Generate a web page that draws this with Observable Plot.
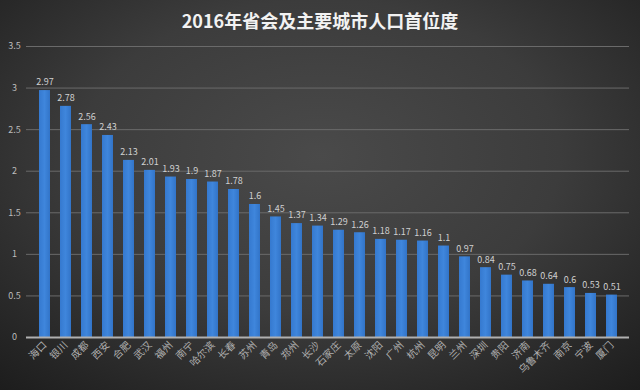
<!DOCTYPE html>
<html>
<head>
<meta charset="utf-8">
<script src="https://cdn.jsdelivr.net/npm/d3@7"></script>
<script src="https://cdn.jsdelivr.net/npm/@observablehq/plot@0.6"></script>
<style>
  html, body { margin: 0; padding: 0; }
  body {
    width: 640px; height: 390px; overflow: hidden;
    background: radial-gradient(ellipse 75% 80% at 50% 40%, #4a4a4a 0%, #3c3c3c 50%, #262626 85%, #1d1d1d 100%);
    font-family: "Noto Sans CJK SC", "Noto Sans", sans-serif;
  }
  #title {
    height: 36px; line-height: 40px; text-align: center;
    color: #f2f2f2; font-size: 18px; font-weight: bold;
  }
  #chart svg { display: block; background: transparent; }
</style>
</head>
<body>
<div id="title">2016年省会及主要城市人口首位度</div>
<div id="chart"></div>
<script>
const cities = ["海口","银川","成都","西安","合肥","武汉","福州","南宁","哈尔滨","长春","苏州","青岛","郑州","长沙","石家庄","太原","沈阳","广州","杭州","昆明","兰州","深圳","贵阳","济南","乌鲁木齐","南京","宁波","厦门"];
const values = [2.97,2.78,2.56,2.43,2.13,2.01,1.93,1.9,1.87,1.78,1.6,1.45,1.37,1.34,1.29,1.26,1.18,1.17,1.16,1.1,0.97,0.84,0.75,0.68,0.64,0.6,0.53,0.51];
const yTicks = [0,0.5,1,1.5,2,2.5,3,3.5];

const data = cities.map((c, i) => ({city: c, value: values[i]}));

const chart = Plot.plot({
  width: 640,
  height: 354,
  marginTop: 10,
  marginBottom: 53,
  marginLeft: 26,
  marginRight: 11,
  style: {background: "transparent", fontFamily: "'Noto Sans CJK SC', sans-serif"},
  x: {domain: cities, paddingInner: 0.5, paddingOuter: 0.25, label: null, axis: null},
  y: {domain: [0, 3.5], label: null, axis: null},
  marks: [
    Plot.ruleY(yTicks.filter(d => d > 0), {stroke: "#6a6a6a", strokeOpacity: 1, strokeWidth: 1}),
    () => {
      const defs = d3.create("svg:defs");
      const g = defs.append("linearGradient").attr("id", "barGrad").attr("x1", 0).attr("x2", 1).attr("y1", 0).attr("y2", 0);
      g.append("stop").attr("offset", "0%").attr("stop-color", "#3579cf");
      g.append("stop").attr("offset", "50%").attr("stop-color", "#3f86dc");
      g.append("stop").attr("offset", "100%").attr("stop-color", "#3274c8");
      return defs.node();
    },
    Plot.barY(data, {x: "city", y: "value", fill: "url(#barGrad)"}),
    Plot.ruleY([0], {stroke: "#b0b0b0", strokeOpacity: 1, strokeWidth: 2}),
    Plot.text(data, {x: "city", y: "value", text: d => String(d.value), dy: -8, fill: "#d0d0d0", fontSize: 9}),
    Plot.axisY(yTicks, {
      tickSize: 0, tickPadding: 0, fill: "#bdbdbd", fontSize: 9,
      tickFormat: d => String(d), textAnchor: "middle", dx: -12, label: null
    }),
    Plot.axisX({
      tickSize: 0, tickPadding: 4, fill: "#b0b0b0", fontSize: 10,
      tickRotate: -45, label: null, dy: 2
    })
  ]
});
document.getElementById("chart").append(chart);
</script>
</body>
</html>
